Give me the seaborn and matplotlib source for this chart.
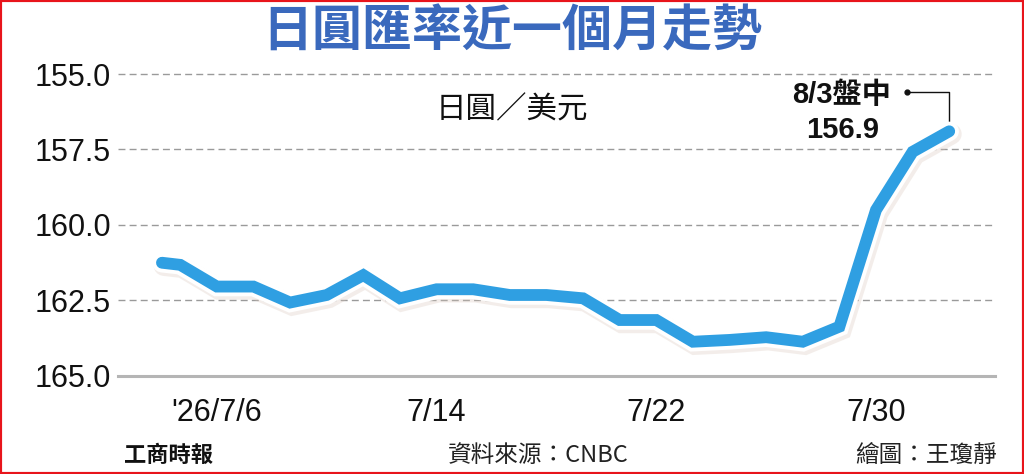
import matplotlib
matplotlib.use("Agg")
import matplotlib.pyplot as plt
import matplotlib.patheffects as pe
from matplotlib.patches import Rectangle
import seaborn as sns

# trading-day index (7/6 = 0) and yen per dollar
day_idx = [-1.5, -1, 0, 1, 2, 3, 4, 5, 6, 7, 8, 9, 10, 11,
           12, 13, 14, 15, 16, 17, 18, 19, 20]
rate = [161.26, 161.33, 162.05, 162.05, 162.58, 162.33, 161.67, 162.44,
        162.14, 162.14, 162.33, 162.33, 162.44, 163.16, 163.16, 163.88,
        163.82, 163.73, 163.88, 163.38, 159.51, 157.58, 156.9]

tick_pos = [0, 6, 12, 18]
tick_labels = ["'26/7/6", "7/14", "7/22", "7/30"]
y_ticks = [155.0, 157.5, 160.0, 162.5, 165.0]

LINE_BLUE = "#2f9fe2"
TITLE_BLUE = "#3a69bd"
GRID = "#9a9a9a"

sns.set_style("white")
plt.rcParams["font.family"] = ["Liberation Sans", "Noto Sans CJK TC", "DejaVu Sans"]
CJK = ["Noto Sans CJK TC", "DejaVu Sans"]

fig = plt.figure(figsize=(10.24, 4.74), dpi=100)
ax = fig.add_axes([118 / 1024, (474 - 375.5) / 474, (995 - 118) / 1024, (375.5 - 74) / 474])

# dashed grid (165 is the solid base line)
for y in y_ticks[:-1]:
    ax.axhline(y, color=GRID, lw=1.0, ls=(0, (5, 3)), zorder=0, clip_on=False)

sns.lineplot(x=day_idx, y=rate, ax=ax, color=LINE_BLUE, linewidth=8.5,
             estimator=None, sort=False,
             solid_capstyle="round", solid_joinstyle="miter", zorder=3,
             path_effects=[pe.SimpleLineShadow(offset=(1.5, -2), shadow_color="#d8c6bb",
                                               alpha=0.3, linewidth=15),
                           pe.Stroke(linewidth=14, foreground="white"),
                           pe.Normal()])

ax.set_ylim(165, 155)
ax.set_xlim(-2.7, 21.25)

ax.set_yticks(y_ticks)
ax.set_yticklabels([f"{v:.1f}" for v in y_ticks])
ax.set_xticks(tick_pos)
ax.set_xticklabels(tick_labels)
ax.tick_params(axis="y", length=0, pad=5, labelsize=22, labelcolor="#111111")
ax.tick_params(axis="x", length=9, width=1.5, color="#b5b5b5", pad=7,
               labelsize=22, labelcolor="#111111", direction="out")
ax.set_xlabel("")
ax.set_ylabel("")
for side in ["top", "right", "left"]:
    ax.spines[side].set_visible(False)
ax.spines["bottom"].set_color("#b5b5b5")
ax.spines["bottom"].set_linewidth(2.2)

# callout for the last point
x_last, y_last = day_idx[-1], rate[-1]
ax.plot([x_last - 1.15, x_last, x_last], [155.6, 155.6, y_last], color="#111111",
        lw=1.0, zorder=2, clip_on=False)
ax.plot([x_last - 1.15], [155.6], "o", color="#111111", ms=3.5, zorder=2, clip_on=False)
ax.text(x_last - 2.95, 155.7, "8/3盤中", ha="center", va="center", fontsize=21,
        fontweight="bold", color="#111111")
ax.text(x_last - 2.9, 156.85, "156.9", ha="center", va="center", fontsize=21,
        fontweight="bold", color="#111111")

# titles and footer
fig.text(0.5, 1 - 32 / 474, "日圓匯率近一個月走勢", ha="center", va="center",
         fontsize=36, fontweight="bold", color=TITLE_BLUE, family=CJK)
fig.text(512 / 1024, 1 - 110 / 474, "日圓／美元", ha="center", va="center",
         fontsize=22, color="#111111", family=CJK)
fig.text(124 / 1024, 1 - 455 / 474, "工商時報", ha="left", va="center",
         fontsize=16, fontweight="heavy", color="#111111", family=CJK)
fig.text(538 / 1024, 1 - 455 / 474, "資料來源：CNBC", ha="center", va="center",
         fontsize=17, color="#222222", family=CJK)
fig.text(997 / 1024, 1 - 455 / 474, "繪圖：王瓊靜", ha="right", va="center",
         fontsize=17, color="#222222", family=CJK)

fig.patches.append(Rectangle((0, 0), 1, 1, transform=fig.transFigure, fill=False,
                             edgecolor="#e8141b", lw=3))

fig.savefig("out.png", dpi=100)
plt.close(fig)
